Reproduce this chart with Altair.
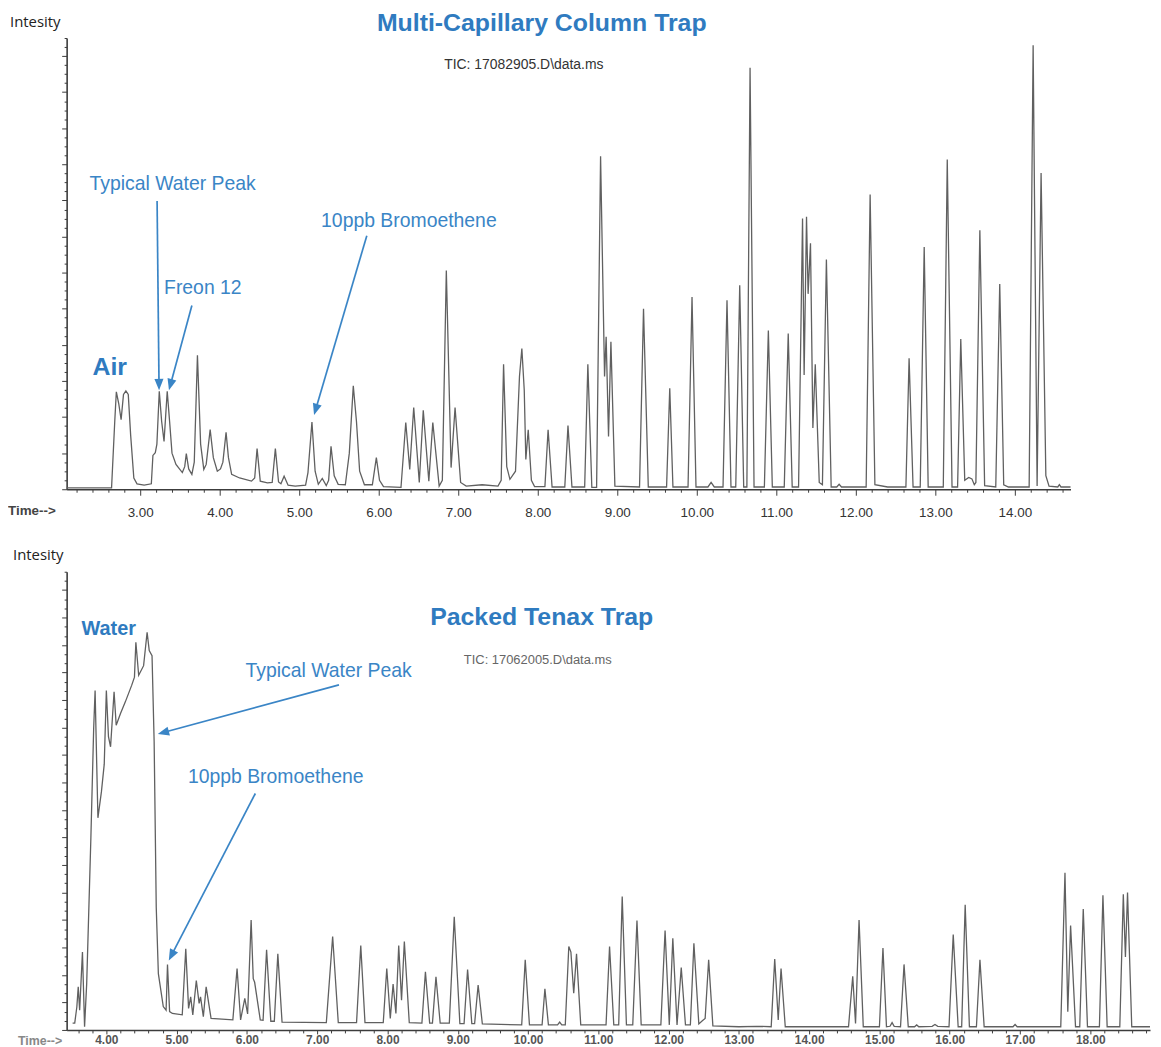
import math
import altair as alt
import pandas as pd

# ---------------- data ----------------
# Top chromatogram (Multi-Capillary Column Trap): time (min) / relative intensity (0-100)
top_time = [2.075, 2.64, 2.68, 2.70, 2.73, 2.76, 2.79, 2.82, 2.85, 2.88, 2.92, 2.96, 3.05, 3.14,
            3.16, 3.19, 3.21, 3.24, 3.27, 3.30, 3.34, 3.37, 3.40, 3.45, 3.53, 3.56, 3.58, 3.61,
            3.65, 3.68, 3.72, 3.76, 3.80, 3.83, 3.88, 3.92, 3.97, 4.01, 4.04, 4.08, 4.11, 4.15,
            4.25, 4.40, 4.44, 4.47, 4.51, 4.60, 4.66, 4.70, 4.74, 4.77, 4.81, 4.86, 4.95, 5.08,
            5.11, 5.16, 5.20, 5.24, 5.29, 5.34, 5.37, 5.40, 5.44, 5.49, 5.58, 5.63, 5.68, 5.72,
            5.76, 5.82, 5.92, 5.97, 6.01, 6.06, 6.28, 6.34, 6.39, 6.44, 6.51, 6.56, 6.63, 6.68,
            6.76, 6.80, 6.85, 6.91, 6.96, 7.03, 7.10, 7.30, 7.50, 7.54, 7.57, 7.61, 7.65, 7.72,
            7.77, 7.80, 7.83, 7.85, 7.88, 7.92, 7.96, 8.09, 8.13, 8.18, 8.34, 8.38, 8.43, 8.59,
            8.63, 8.68, 8.74, 8.79, 8.84, 8.86, 8.89, 8.92, 8.97, 9.28, 9.33, 9.39, 9.62, 9.66,
            9.70, 9.89, 9.94, 9.99, 10.14, 10.18, 10.22, 10.33, 10.38, 10.43, 10.49, 10.54, 10.59,
            10.63, 10.67, 10.72, 10.85, 10.90, 10.95, 11.10, 11.15, 11.20, 11.28, 11.33, 11.35,
            11.38, 11.40, 11.43, 11.46, 11.49, 11.54, 11.58, 11.63, 11.69, 11.76, 11.79, 11.82,
            12.13, 12.18, 12.24, 12.40, 12.63, 12.67, 12.72, 12.81, 12.86, 12.91, 13.10, 13.15,
            13.21, 13.28, 13.32, 13.37, 13.42, 13.46, 13.49, 13.51, 13.56, 13.62, 13.76, 13.81,
            13.86, 13.92, 14.18, 14.23, 14.28, 14.33, 14.39, 14.43, 14.54, 14.56, 14.58, 14.70]
top_intensity = [0.3, 0.3, 15, 21.6, 19, 15.4, 21, 21.8, 21, 12, 2.5, 1.2, 0.9, 1.2,
                 7.5, 8.1, 10, 21.7, 15, 10.6, 21.7, 15, 8, 5.5, 3.7, 5, 7.9, 4.5,
                 3.3, 6, 29.7, 10, 4.4, 5.5, 13.2, 7, 4.0, 4.5, 6, 12.6, 7, 3.3,
                 2.5, 1.8, 2.5, 9.0, 1.8, 1.4, 1.5, 9.0, 1.6, 1.2, 2.9, 0.9, 0.7, 0.9,
                 3.7, 14.9, 4, 1.1, 2.4, 0.8, 2, 9.5, 3, 1.1, 1.0, 8, 22.9, 15,
                 4, 1.0, 1.0, 7.0, 2, 0.6, 0.4, 14.8, 4.4, 18.1, 1.5, 17.5, 1.8, 14.8,
                 0.7, 2, 48.5, 4.8, 18.1, 1.5, 0.7, 1.0, 0.7, 2, 27.7, 5, 2.2, 4,
                 25, 31.2, 22, 6.6, 13.2, 2, 0.6, 0.6, 13.2, 0.5, 0.5, 14.1, 0.5, 0.5,
                 27.7, 0.4, 0.4, 73.8, 25, 33.8, 11.7, 32.7, 0.7, 0.5, 40.0, 0.5, 0.5, 22.4,
                 0.5, 0.5, 42.6, 0.5, 0.5, 1.5, 0.5, 0.5, 41.9, 0.5, 0.5, 45.2, 0.5,
                 0.5, 93.4, 0.5, 0.5, 35.2, 0.5, 0.5, 34.5, 0.5, 0.5, 60.0, 25.3,
                 60.4, 43.3, 54.5, 13.6, 27.7, 1.5, 1.0, 50.9, 0.5, 0.5, 1.1, 0.5,
                 0.5, 65.3, 1.0, 0.5, 0.5, 29.0, 0.5, 0.5, 53.7, 0.5, 0.5, 73.1,
                 0.5, 0.5, 33.3, 2.0, 2.6, 2.3, 1.0, 1.5, 57.4, 0.8, 0.5, 45.5,
                 1.0, 0.5, 0.5, 98.4, 0.7, 70.1, 3, 0.7, 0.5, 1.0, 0.5, 0.5]

# Bottom chromatogram (Packed Tenax Trap)
bot_time = [3.52, 3.55, 3.58, 3.60, 3.62, 3.66, 3.69, 3.72, 3.78, 3.82, 3.84, 3.86, 3.88, 3.93,
            3.97, 4.00, 4.03, 4.06, 4.11, 4.14, 4.20, 4.27, 4.36, 4.40, 4.42, 4.46, 4.53, 4.58,
            4.61, 4.65, 4.68, 4.71, 4.74, 4.81, 4.85, 4.87, 4.90, 4.94, 5.08, 5.13, 5.17, 5.20,
            5.23, 5.28, 5.32, 5.34, 5.38, 5.42, 5.49, 5.80, 5.86, 5.91, 5.97, 6.01, 6.06, 6.09,
            6.11, 6.19, 6.23, 6.28, 6.34, 6.39, 6.44, 6.50, 7.13, 7.22, 7.30, 7.56, 7.62, 7.68,
            7.94, 7.99, 8.04, 8.08, 8.12, 8.16, 8.20, 8.24, 8.31, 8.49, 8.54, 8.60, 8.64, 8.69,
            8.75, 8.88, 8.95, 9.03, 9.09, 9.14, 9.20, 9.24, 9.29, 9.35, 9.91, 9.96, 10.02, 10.20,
            10.24, 10.29, 10.42, 10.45, 10.48, 10.53, 10.58, 10.61, 10.65, 10.69, 10.75, 11.11,
            11.16, 11.22, 11.29, 11.34, 11.40, 11.49, 11.55, 11.61, 11.89, 11.95, 12.01, 12.06,
            12.12, 12.18, 12.24, 12.31, 12.36, 12.43, 12.48, 12.52, 12.57, 12.63, 13.00, 13.25,
            13.46, 13.51, 13.56, 13.60, 13.66, 14.56, 14.62, 14.66, 14.71, 14.77, 15.00, 15.05,
            15.10, 15.15, 15.18, 15.21, 15.30, 15.35, 15.41, 15.50, 15.53, 15.56, 15.75, 15.79,
            15.83, 15.99, 16.05, 16.12, 16.17, 16.22, 16.28, 16.38, 16.43, 16.49, 16.90, 16.93,
            16.96, 17.58, 17.64, 17.68, 17.72, 17.79, 17.85, 17.90, 17.96, 18.13, 18.18, 18.24,
            18.42, 18.47, 18.50, 18.53, 18.59, 18.85]
bot_intensity = [1.5, 1.5, 5, 9.4, 4.3, 17.0, 0.7, 10, 42, 66, 74.1, 60, 46.3, 52,
                 58, 74.1, 64, 61.8, 73.8, 66.5, 69, 71.6, 75.2, 77, 84.6, 77.4, 79.5, 86.8,
                 82.8, 81.7, 62.9, 26.7, 12.3, 5.1, 4.3, 14.3, 4.0, 3.6, 3.3, 17.7, 4.7, 7.2,
                 3.3, 10.8, 5.8, 7.2, 2.9, 9.4, 2.5, 2.2, 13.4, 2.2, 6.9, 3.5, 24.0, 11.2,
                 10.4, 2.2, 2.1, 17.5, 1.9, 1.9, 16.6, 1.7, 1.6, 20.4, 1.6, 1.6, 18.4, 1.6,
                 1.6, 13.4, 2.5, 10.0, 3.6, 18.4, 6.5, 19.3, 1.6, 1.5, 12.7, 1.5, 1.5, 11.6,
                 1.5, 1.5, 24.7, 1.4, 1.4, 13.2, 1.4, 1.4, 9.8, 1.3, 1.1, 15.3, 1.1, 1.1,
                 9.0, 1.1, 1.1, 1.7, 1.1, 1.1, 18.2, 17.0, 8.0, 16.6, 1.1, 1.1,
                 18.2, 1.1, 1.1, 29.1, 1.1, 1.1, 23.9, 1.1, 1.1, 21.7, 1.1, 20.0,
                 1.1, 13.6, 1.1, 1.1, 18.9, 1.3, 2.0, 2.5, 15.3, 0.9, 0.7, 0.8,
                 0.7, 15.5, 2.2, 13.4, 0.7, 0.7, 11.7, 1.4, 24.0, 0.7, 0.7, 17.9,
                 0.7, 0.8, 1.6, 0.8, 0.7, 14.3, 0.7, 0.7, 1.1, 0.7, 0.8, 1.2,
                 0.8, 0.7, 20.8, 0.7, 0.7, 27.3, 0.7, 0.7, 15.3, 0.7, 0.7, 1.2,
                 0.7, 0.7, 34.3, 4.0, 22.8, 0.7, 0.7, 26.4, 0.7, 0.7, 29.4, 0.7,
                 0.7, 29.6, 15.9, 30.0, 0.7, 0.7]

# Axis ranges (minutes)
top_x_domain = [2.075, 14.7]
bot_x_domain = [3.435, 18.85]
top_x_ticks = [round(2.2 + 0.2 * i, 1) for i in range(63)]
bot_x_ticks = [round(3.6 + 0.2 * i, 1) for i in range(77)]
y_ticks = [2 * i for i in range(51)]

# Annotations (time, intensity, text)
top_notes_t = [2.3625, 3.30, 5.275]
top_notes_v = [67.6, 44.7, 59.5]
top_notes = ["Typical Water Peak", "Freon 12", "10ppb Bromoethene"]
top_arrows = [  # start t, start v, end t, end v
    (3.2125, 63.9, 3.2375, 22.0),
    (3.65, 40.7, 3.3625, 22.0),
    (5.85, 56.2, 5.1875, 16.5),
]
top_big_t, top_big_v, top_big = [2.40], [27.1], ["Air"]

bot_notes_t = [5.98, 5.16]
bot_notes_v = [78.3, 55.1]
bot_notes = ["Typical Water Peak", "10ppb Bromoethene"]
bot_arrows = [
    (7.31, 75.3, 4.735, 64.6),
    (6.12, 51.6, 4.89, 15.2),
]
bot_big_t, bot_big_v, bot_big = [3.646], [87.6], ["Water"]

BLUE = "#3a85c6"
BLUE_B = "#2f7bc0"
LINE = "#606060"
AXIS = "#3c3c3c"
SANS = "Liberation Sans"


def panel(times, vals, xdom, W, H, xticks, notes_t, notes_v, notes, arrows,
          big_t, big_v, big, big_size, title, title_xy, tic, tic_xy, tic_size, tic_color,
          int_xy, time_xy, time_size, time_color, lab_size, lab_color, lab_weight,
          tick_major, lab_pad, ymaj):
    xsc = alt.Scale(domain=xdom, nice=False, zero=False)
    ysc = alt.Scale(domain=[0, 100], nice=False, zero=False)
    sx = W / (xdom[1] - xdom[0])
    sy = H / 100.0

    xaxis = alt.Axis(
        values=xticks, title=None, grid=False,
        labelExpr="abs(datum.value - round(datum.value)) < 0.01 ? format(datum.value, '.2f') : ''",
        labelFont=SANS, labelFontSize=lab_size, labelColor=lab_color, labelFontWeight=lab_weight,
        labelPadding=lab_pad, labelFlush=False, labelOverlap=False,
        domainColor=AXIS, domainWidth=1.6, tickColor=AXIS, tickWidth=1,
        tickSize={"condition": {"test": "abs(datum.value - round(datum.value)) < 0.01",
                                "value": tick_major}, "value": 3},
    )
    yaxis = alt.Axis(
        values=y_ticks, title=None, grid=False, labels=False,
        domainColor=AXIS, domainWidth=1.6, tickColor=AXIS, tickWidth=1,
        tickSize={"condition": {"test": f"datum.value % {ymaj} == 0", "value": 5}, "value": 2.5},
    )

    def X(f):
        return alt.X(f, scale=xsc, axis=xaxis)

    def Y(f):
        return alt.Y(f, scale=ysc, axis=yaxis)

    df = pd.DataFrame({"t": times, "v": vals})
    line = alt.Chart(df).mark_line(color=LINE, strokeWidth=1.3).encode(x=X("t:Q"), y=Y("v:Q"))

    nd = pd.DataFrame({"t": notes_t, "v": notes_v, "txt": notes})
    note_layer = alt.Chart(nd).mark_text(
        align="left", baseline="middle", font=SANS, fontSize=19.5, color=BLUE
    ).encode(x=X("t:Q"), y=Y("v:Q"), text="txt:N")

    bd = pd.DataFrame({"t": big_t, "v": big_v, "txt": big})
    big_layer = alt.Chart(bd).mark_text(
        align="left", baseline="middle", font=SANS, fontSize=big_size, fontWeight="bold", color=BLUE_B
    ).encode(x=X("t:Q"), y=Y("v:Q"), text="txt:N")

    rows = []
    for (t1, v1, t2, v2) in arrows:
        dx = (t2 - t1) * sx
        dy = -(v2 - v1) * sy
        ln = math.hypot(dx, dy)
        back = 5.5
        ht = t2 - dx / ln * back / sx
        hv = v2 + dy / ln * back / sy
        ang = math.degrees(math.atan2(dx, -dy)) % 360
        rows.append({"t": t1, "v": v1, "t2": ht, "v2": hv, "ang": ang})
    ad = pd.DataFrame(rows)
    shafts = alt.Chart(ad).mark_rule(color=BLUE, strokeWidth=1.7).encode(
        x=X("t:Q"), y=Y("v:Q"), x2="t2:Q", y2="v2:Q")
    heads = alt.Chart(ad).mark_point(
        shape="M0,-1L0.8,1L-0.8,1Z", filled=True, size=130, color=BLUE, opacity=1
    ).encode(x=alt.X("t2:Q", scale=xsc, axis=xaxis), y=alt.Y("v2:Q", scale=ysc, axis=yaxis),
             angle=alt.Angle("ang:Q", scale=None))

    one = pd.DataFrame({"a": [0]})
    title_l = alt.Chart(one).mark_text(
        text=title, font=SANS, fontSize=25, fontWeight="bold", color=BLUE_B,
        align="center", baseline="middle"
    ).encode(x=alt.value(title_xy[0]), y=alt.value(title_xy[1]))
    tic_l = alt.Chart(one).mark_text(
        text=tic, font=SANS, fontSize=tic_size, color=tic_color, align="center", baseline="middle"
    ).encode(x=alt.value(tic_xy[0]), y=alt.value(tic_xy[1]))
    int_l = alt.Chart(one).mark_text(
        text="Intesity", font="Open Sans", fontSize=15, color="#222", align="left", baseline="middle"
    ).encode(x=alt.value(int_xy[0]), y=alt.value(int_xy[1]))
    time_l = alt.Chart(one).mark_text(
        text="Time-->", font=SANS, fontSize=time_size, color=time_color, fontWeight="bold",
        align="left", baseline="middle"
    ).encode(x=alt.value(time_xy[0]), y=alt.value(time_xy[1]))

    return alt.layer(line, note_layer, big_layer, shafts, heads, title_l, tic_l, int_l,
                     time_l).properties(width=W, height=H)


top = panel(top_time, top_intensity, top_x_domain, 1010, 454, top_x_ticks,
            top_notes_t, top_notes_v, top_notes, top_arrows,
            top_big_t, top_big_v, top_big, 25,
            "Multi-Capillary Column Trap", (478, -15),
            "TIC: 17082905.D\\data.ms", (460, 27), 14, "#333",
            (-57, -16), (-59, 476), 13.5, "#444", 13.5, "#333", "normal", 6, 10, 8)

bottom = panel(bot_time, bot_intensity, bot_x_domain, 1090, 461, bot_x_ticks,
               bot_notes_t, bot_notes_v, bot_notes, bot_arrows,
               bot_big_t, bot_big_v, bot_big, 20,
               "Packed Tenax Trap", (478, 46),
               "TIC: 17062005.D\\data.ms", (474, 89), 13, "#666",
               (-54, -17), (-49, 472), 12.5, "#888", 12, "#555", "bold", 4, 1, 6)

chart = alt.vconcat(top, bottom, spacing=29).properties(
    padding=0, background="white").configure_view(strokeWidth=0)

chart.save("out.html", embed_options={"renderer": "svg", "actions": False})
